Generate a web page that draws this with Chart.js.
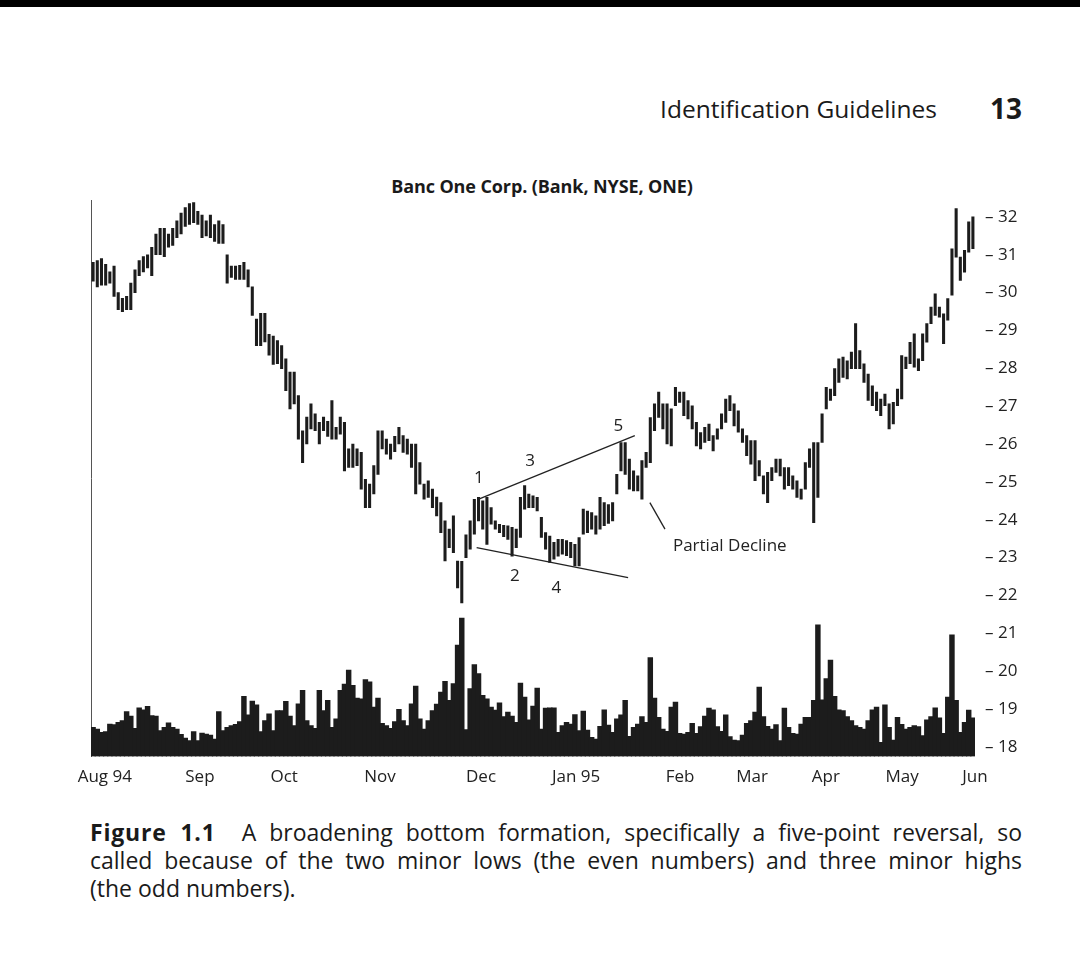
<!DOCTYPE html>
<html>
<head>
<meta charset="utf-8">
<script src="https://cdn.jsdelivr.net/npm/chart.js@4.4.1/dist/chart.umd.min.js"></script>
<style>
html,body{margin:0;padding:0;background:#fff;}
body{width:1080px;height:958px;position:relative;overflow:hidden;font-family:"Open Sans",sans-serif;color:#1a1a1a;}
#topbar{position:absolute;left:0;top:0;width:1080px;height:7px;background:#000;}
#runhead{position:absolute;right:143px;top:92px;font-size:24.5px;line-height:34px;white-space:nowrap;}
#pageno{position:absolute;right:58px;top:91px;font-size:28px;line-height:34px;font-weight:bold;}
#ctitle{position:absolute;left:0;width:1084px;top:174px;text-align:center;font-size:18px;line-height:24px;font-weight:bold;letter-spacing:-0.1px;}
#wrap{position:absolute;left:0;top:180px;width:1080px;height:630px;}
#caption{position:absolute;left:90px;width:932px;top:818px;font-size:23px;line-height:28px;}
#caption .j{text-align:justify;text-align-last:justify;white-space:normal;}
#caption b{letter-spacing:0.8px;}
</style>
</head>
<body>
<div id="topbar"></div>
<div id="runhead">Identification Guidelines</div>
<div id="pageno">13</div>
<div id="ctitle">Banc One Corp. (Bank, NYSE, ONE)</div>
<div id="wrap"><canvas id="c" width="1080" height="630"></canvas></div>
<div id="caption">
<div class="j"><b>Figure 1.1</b>&nbsp; A broadening bottom formation, specifically a five-point reversal, so</div>
<div class="j">called because of the two minor lows (the even numbers) and three minor highs</div>
<div>(the odd numbers).</div>
</div>
<script>
// Daily price bars (Aug 1994 - Jun 1995)
const priceHigh = [
30.8,30.85,30.9,30.75,30.55,30.7,30.0,29.85,29.9,30.25,30.6,30.85,30.95,31.0,31.2,31.55,31.7,31.7,31.55,31.7,31.9,32.1,32.25,32.35,32.38,32.15,32.05,31.9,32.05,31.8,31.9,31.8,31.0,30.7,30.7,30.72,30.8,30.6,30.15,29.3,29.45,29.45,28.9,28.85,
28.73,28.6,28.25,27.9,27.9,27.28,26.35,26.71,27.06,26.8,26.57,26.71,26.6,27.15,26.44,26.71,26.57,25.87,26.0,25.87,25.78,25.07,24.94,25.43,26.35,26.35,26.13,26.0,26.2,26.44,26.22,26.13,26.0,26.0,25.51,24.94,25.03,24.81,24.6,24.45,23.97,23.75,24.1,22.91,
22.9,23.6,23.97,24.54,24.59,24.5,24.59,24.32,23.97,23.88,23.85,23.84,23.8,23.75,24.59,24.9,24.68,24.63,24.59,24.06,23.66,23.57,23.4,23.48,23.48,23.45,23.4,23.35,23.53,24.28,24.23,24.19,24.1,24.59,24.45,24.4,24.45,25.2,26.04,26.04,25.6,25.29,25.16,25.56,
25.78,26.7,27.06,27.37,27.06,27.06,26.93,27.5,27.37,27.37,27.15,27.01,26.57,26.3,26.44,26.53,26.22,26.4,26.8,27.19,27.28,27.06,26.88,26.4,26.22,26.09,26.09,25.56,25.16,25.25,25.38,25.6,25.6,25.38,25.38,25.16,25.03,24.81,25.51,25.87,26.04,26.04,26.8,27.5,
27.45,27.99,28.25,28.3,28.2,28.43,29.18,28.47,28.12,27.85,27.54,27.37,27.19,27.32,27.06,27.1,27.45,28.34,28.3,28.69,28.91,28.25,28.91,29.18,29.62,29.97,29.62,29.44,29.84,31.16,32.22,30.94,31.12,31.87,32.0
];
const priceLow = [
30.3,30.15,30.2,30.2,30.25,29.9,29.55,29.5,29.55,29.55,30.0,30.45,30.55,30.65,30.45,31.0,31.0,30.95,31.2,31.25,31.45,31.55,31.75,31.8,31.85,31.8,31.45,31.5,31.45,31.35,31.3,31.3,30.25,30.4,30.35,30.35,30.35,30.15,29.4,28.6,28.6,28.7,28.35,28.1,
28.12,27.99,27.41,26.93,27.06,26.13,25.51,26.0,26.4,26.35,26.0,26.35,26.2,26.13,26.13,26.26,25.29,25.38,25.38,25.43,24.81,24.32,24.32,24.68,25.2,25.87,25.73,25.6,25.8,26.0,25.78,25.73,25.38,24.68,24.94,24.54,24.59,24.32,24.1,23.66,22.91,23.26,23.13,22.2,
21.8,23.0,23.22,23.62,23.97,23.75,23.35,23.88,23.75,23.66,23.55,23.48,23.04,23.26,23.53,24.28,24.32,24.32,24.23,23.53,23.22,22.87,22.96,23.04,23.09,23.05,23.0,22.78,22.78,23.62,23.66,23.75,23.62,23.75,23.84,23.9,23.97,24.68,25.29,25.2,24.81,24.76,24.76,24.54,
25.38,25.51,26.35,26.7,26.4,26.0,25.95,27.01,27.1,26.75,26.66,26.4,25.95,25.87,26.04,26.09,25.82,26.13,26.4,26.57,26.88,26.48,26.31,26.04,25.69,25.47,25.03,25.16,24.68,24.45,25.03,25.25,25.16,24.81,24.9,24.81,24.59,24.54,24.81,25.38,23.92,24.59,26.04,26.93,
27.15,27.28,27.63,27.76,27.72,27.99,27.99,27.99,27.63,27.15,27.01,26.88,26.75,27.01,26.4,26.53,27.01,27.19,27.99,28.12,28.03,27.94,28.2,28.69,29.18,29.4,29.35,28.65,29.27,29.93,30.94,30.32,30.54,31.07,31.16
];
// Daily volume (thousand shares, estimated)
const volume = [
580,546,480,494,646,634,680,714,894,800,
560,966,926,994,814,800,514,580,666,580,
546,440,366,314,494,314,466,446,426,346,
894,514,580,614,640,694,1194,826,1100,1026,
494,714,846,514,914,914,1094,800,614,1046,
1314,714,614,560,1314,914,1114,580,746,1314,
1440,1714,1414,1160,1146,1526,1480,980,1160,660,
614,560,694,934,714,614,1046,1400,746,546,
714,914,1040,1280,1494,1114,1446,2214,2746,534,
1346,1826,1646,1214,1146,980,920,1066,794,880,
800,680,1460,1180,726,1000,1360,546,960,
966,966,480,614,680,646,834,514,900,526,
380,346,600,926,626,480,746,826,1114,400,
580,646,794,680,1966,1160,780,546,500,980,
1080,460,446,480,660,460,594,800,960,926,
594,500,826,394,326,314,426,660,714,880,
1380,794,600,546,634,314,960,580,460,446,
646,780,780,1114,2614,1126,1546,1914,1194,926,
914,794,714,614,580,546,714,926,980,280,
1026,580,326,780,640,546,580,614,594,414,
726,794,966,766,460,1180,2414,1114,480,680,
920,766
];
// Month tick labels and their positions (trading-day index)
const monthLabels = ['Aug 94','Sep','Oct','Nov','Dec','Jan 95','Feb','Mar','Apr','May','Jun'];
const monthPos = [2.8,25.5,45.6,68.5,92.6,115.3,140.1,157.3,174.9,193.1,210.5];
const priceTicks = [18,19,20,21,22,23,24,25,26,27,28,29,30,31,32];
// Annotation lines [x1,y1,x2,y2] and labels [x,y,text,align] in data units
const trendLines = [[91.9,24.54,129.3,26.22],[91.55,23.26,127.7,22.47],[132.9,24.45,136.5,23.75]];
const noteLabels = [[92.1,25.11,'1','center'],[104.3,25.56,'3','center'],[125.4,26.48,'5','center'],[100.7,22.51,'2','center'],[110.6,22.2,'4','center'],[138.4,23.31,'Partial Decline','left']];

const annotate = {
  id:'annotate',
  afterDatasetsDraw(chart){
    const {ctx, scales:{x, y}} = chart;
    ctx.save();
    ctx.strokeStyle = '#222'; ctx.lineWidth = 1.3;
    trendLines.forEach(l => {
      ctx.beginPath();
      ctx.moveTo(x.getPixelForValue(l[0]), y.getPixelForValue(l[1]));
      ctx.lineTo(x.getPixelForValue(l[2]), y.getPixelForValue(l[3]));
      ctx.stroke();
    });
    ctx.fillStyle = '#222'; ctx.font = '17px "Open Sans"'; ctx.textBaseline = 'middle';
    noteLabels.forEach(t => {
      ctx.textAlign = t[3];
      ctx.fillText(t[2], x.getPixelForValue(t[0]), y.getPixelForValue(t[1]));
    });
    ctx.restore();
  }
};

Chart.defaults.font.family = '"Open Sans", sans-serif';
new Chart(document.getElementById('c'), {
  type:'bar',
  data:{datasets:[
    {label:'Price', data: priceHigh.map((h,i)=>({x:i, y:[priceLow[i], h]})), backgroundColor:'#1c1c1c', barThickness:2.4, grouped:false, yAxisID:'y', order:1},
    {label:'Volume', data: volume.map((v,i)=>({x:i, y:v})), backgroundColor:'#1c1c1c', barThickness:4.8, grouped:false, yAxisID:'y2', order:2}
  ]},
  options:{
    responsive:false, animation:false,
    layout:{padding:{left:91, top:0, right:0, bottom:0}},
    plugins:{legend:{display:false}, tooltip:{enabled:false}, title:{display:false}},
    scales:{
      x:{type:'linear', min:-0.5, max:210.5, offset:false,
         grid:{display:false, drawTicks:false}, border:{display:false},
         ticks:{autoSkip:false, maxRotation:0, padding:10, color:'#222', font:{size:17}, callback:(v,i)=>monthLabels[i]},
         afterBuildTicks:s=>{s.ticks = monthPos.map(v=>({value:v}));},
         afterFit:s=>{s.height = 53.5;}},
      y:{type:'linear', position:'right', min:17.744, max:32.442,
         grid:{display:false, drawTicks:false}, border:{display:false},
         ticks:{padding:10, color:'#222', font:{size:17}, callback:v=>'\u2013 '+v},
         afterBuildTicks:s=>{s.ticks = priceTicks.map(v=>({value:v}));},
         afterFit:s=>{s.width = 105;}},
      y2:{type:'linear', position:'left', min:0, max:11044,
         grid:{display:false, drawTicks:false}, ticks:{display:false},
         border:{display:true, dash:[1,2], color:'#555', width:1},
         afterFit:s=>{s.width = 0;}}
    }
  },
  plugins:[annotate]
});
</script>
</body>
</html>
